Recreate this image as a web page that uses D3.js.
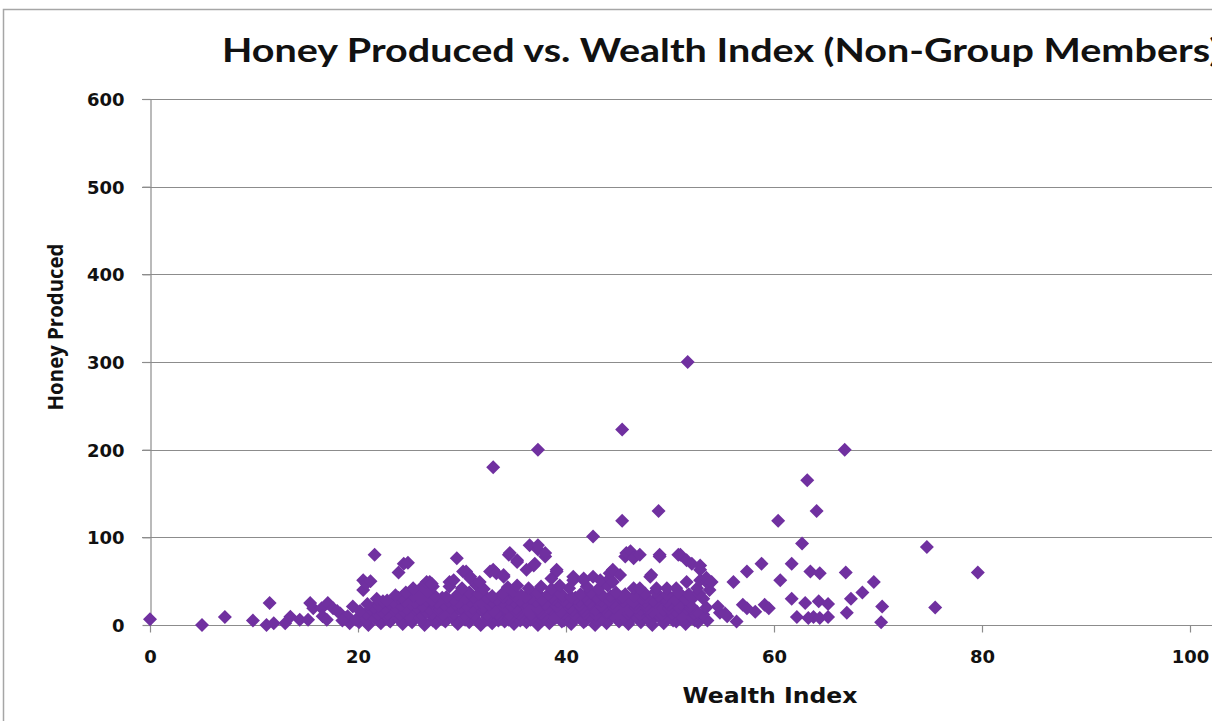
<!DOCTYPE html>
<html>
<head>
<meta charset="utf-8">
<title>Honey Produced vs. Wealth Index</title>
<script src="https://cdnjs.cloudflare.com/ajax/libs/d3/7.8.5/d3.min.js"></script>
<style>
  body { margin: 0; background: #fff; }
  .tick-label { font-family: "DejaVu Sans", sans-serif; font-weight: bold; font-size: 18px; fill: #111; }
</style>
</head>
<body>
<div id="chart"></div>
<script>
// ---- data: [wealth index, honey produced] ----
var lowWealth = [
  [0, 6.5], [5, 0], [7.2, 9], [9.9, 5], [11.2, 0], [11.5, 25], [11.9, 2], [13, 2], [13.5, 9.5],
  [14.4, 6], [15.2, 6], [15.4, 25], [15.7, 19], [16.5, 19], [16.6, 10], [17.1, 25], [17, 6],
  [17.6, 19], [18.3, 13], [18.8, 8], [19.2, 2], [19.5, 21], [18, 16], [19, 10], [18.5, 5]
];
var coreBottom = [
  [20.1, 3], [21.0, 0], [22.2, 2], [23.1, 4], [24.3, 1], [25.2, 3], [26.4, 0], [27.5, 2], [28.4, 4],
  [29.6, 1], [30.7, 3], [31.8, 0], [32.9, 2], [34.1, 4], [35.0, 1], [36.2, 3], [37.3, 0], [38.4, 2],
  [39.6, 4], [40.5, 1], [41.7, 3], [42.8, 0], [43.9, 2], [45.1, 4], [46.0, 1], [47.2, 3], [48.3, 0],
  [49.4, 2], [50.6, 4], [51.5, 1], [52.7, 3], [53.6, 5],
  [19.8, 6], [20.9, 5], [21.9, 6], [23.0, 5], [24.0, 6], [25.1, 5], [26.1, 6], [27.2, 5], [28.2, 6],
  [29.3, 5], [30.3, 6], [31.4, 5], [32.4, 6], [33.5, 5], [34.5, 6], [35.6, 5], [36.6, 6], [37.7, 5],
  [38.7, 6], [39.8, 5], [40.8, 6], [41.9, 5], [42.9, 6], [44.0, 5], [45.0, 6], [46.1, 5], [47.1, 6],
  [48.2, 5], [49.2, 6], [50.3, 5], [51.3, 6], [52.4, 5],
  [20.6, 10], [21.6, 8], [22.7, 11], [23.8, 9], [24.9, 10], [25.9, 8], [27.0, 11], [28.0, 9], [29.1, 10],
  [30.2, 8], [31.2, 11], [32.4, 9], [33.5, 10], [34.6, 8], [35.7, 11], [36.8, 9], [37.8, 10], [39.0, 8],
  [40.1, 11], [41.2, 9], [42.3, 10], [43.4, 8], [44.5, 11], [45.6, 9], [46.7, 10], [47.8, 8], [48.9, 11],
  [50.0, 9], [51.1, 10], [52.2, 8], [53.2, 12],
  [20.8, 13], [21.9, 12], [22.9, 13], [24.0, 12], [25.0, 13], [26.1, 12], [27.1, 13], [28.2, 12], [29.2, 13],
  [30.3, 12], [31.3, 13], [32.4, 12], [33.4, 13], [34.5, 12], [35.5, 13], [36.6, 12], [37.6, 13], [38.7, 12],
  [39.7, 13], [40.8, 12], [41.8, 13], [42.9, 12], [43.9, 13], [45.0, 12], [46.0, 13], [47.1, 12], [48.1, 13],
  [49.2, 12], [50.2, 13], [51.3, 12], [52.3, 13]
];
var coreMiddle = [
  [20.2, 16], [21.2, 18], [22.3, 15], [23.4, 17], [24.4, 16], [25.5, 18], [26.6, 15], [27.7, 17], [28.7, 16],
  [29.8, 18], [30.8, 15], [31.9, 17], [33.0, 16], [34.1, 18], [35.2, 15], [36.3, 17], [37.4, 16], [38.5, 18],
  [39.5, 15], [40.6, 17], [41.7, 16], [42.8, 18], [43.9, 15], [45.0, 17], [46.1, 16], [47.2, 18], [48.3, 15],
  [49.4, 17], [50.5, 16], [51.6, 18], [52.6, 15], [53.5, 20],
  [21.5, 20], [22.6, 19], [23.6, 20], [24.7, 19], [25.7, 20], [26.8, 19], [27.8, 20], [28.9, 19], [29.9, 20],
  [31.0, 19], [32.0, 20], [33.1, 19], [34.1, 20], [35.2, 19], [36.2, 20], [37.3, 19], [38.3, 20], [39.4, 19],
  [40.4, 20], [41.5, 19], [42.5, 20], [43.6, 19], [44.6, 20], [45.7, 19], [46.7, 20], [47.8, 19], [48.8, 20],
  [49.9, 19], [50.9, 20], [52.0, 19],
  [20.9, 24], [22.0, 22], [23.0, 25], [24.1, 23], [25.1, 24], [26.2, 22], [27.2, 25], [28.3, 23], [29.4, 24],
  [30.4, 22], [31.5, 25], [32.6, 23], [33.7, 24], [34.7, 22], [35.8, 25], [36.9, 23], [38.0, 24], [39.1, 22],
  [40.2, 25], [41.3, 23], [42.3, 24], [43.4, 22], [44.5, 25], [45.6, 23], [46.7, 24], [47.7, 22], [48.8, 25],
  [49.9, 23], [51.0, 24], [52.0, 22], [54.6, 21],
  [22.4, 27], [23.4, 26], [24.5, 27], [25.5, 26], [26.6, 27], [27.6, 26], [28.7, 27], [29.7, 26], [30.8, 27],
  [31.8, 26], [32.9, 27], [33.9, 26], [35.0, 27], [36.0, 26], [37.1, 27], [38.1, 26], [39.2, 27], [40.2, 26],
  [41.3, 27], [42.3, 26], [43.4, 27], [44.4, 26], [45.5, 27], [46.5, 26], [47.6, 27], [48.6, 26], [49.7, 27],
  [50.7, 26], [51.8, 27]
];
var coreTop = [
  [21.8, 30], [22.8, 28], [23.9, 31], [25.0, 29], [26.0, 30], [27.1, 28], [28.1, 31], [29.2, 29], [30.3, 30],
  [31.3, 28], [32.4, 31], [33.4, 29], [34.5, 30], [35.6, 28], [36.6, 31], [37.7, 29], [38.8, 30], [39.8, 28],
  [40.9, 31], [42.0, 29], [43.0, 30], [44.1, 28], [45.2, 31], [46.2, 29], [47.3, 30], [48.4, 28], [49.5, 31],
  [50.5, 29], [51.5, 30], [53.2, 30],
  [24.2, 32], [25.3, 33], [26.3, 32], [27.4, 33], [28.5, 32], [30.0, 33], [31.1, 32], [32.9, 33], [34.0, 32],
  [35.1, 33], [36.1, 32], [37.5, 33], [38.6, 32], [39.7, 33], [40.5, 32], [41.8, 33], [42.9, 32], [44.3, 33],
  [45.4, 32], [46.6, 33], [47.7, 32], [48.9, 33], [50.0, 32], [51.2, 33], [52.3, 32],
  [23.6, 34], [24.6, 37], [25.7, 35], [26.7, 38], [29.6, 35], [30.7, 37], [31.6, 35], [33.9, 36], [34.9, 38],
  [35.7, 34], [37.2, 37], [38.3, 35], [39.3, 38], [41.4, 35], [42.4, 37], [43.5, 34], [44.8, 37], [45.7, 35],
  [47.6, 36], [48.6, 38], [49.7, 35], [50.8, 37], [51.8, 35], [52.8, 36],
  [20.5, 40], [25.3, 42], [26.2, 44], [27.2, 44], [28.8, 44], [30.0, 42], [31.4, 45], [32.1, 41], [34.4, 43],
  [35.3, 45], [36.4, 42], [37.6, 44], [38.6, 41], [39.4, 45], [40.3, 42], [42.0, 44], [43.1, 41], [44.0, 45],
  [46.5, 42], [47.1, 42], [48.7, 42], [49.7, 42], [50.6, 42], [52.6, 42], [53.8, 40]
];
var upperCluster = [
  [20.5, 51], [20.8, 47], [21.2, 50], [21.6, 80], [23.9, 60], [24.4, 70], [24.8, 71], [26.6, 49], [26.9, 49],
  [27.1, 47], [28.8, 49], [29.2, 51], [29.5, 76], [30.1, 61], [30.4, 61], [30.8, 55], [30.8, 53], [31.7, 49],
  [32.7, 61], [33.0, 63], [33.3, 59], [34.0, 55], [34.0, 57], [34.5, 80], [34.6, 82], [35.3, 74], [35.3, 72],
  [36.2, 63], [36.5, 91], [36.9, 68], [37.0, 70], [37.3, 86], [37.3, 91], [38.0, 78], [38.0, 82], [38.6, 53],
  [39.1, 61], [39.1, 63], [40.7, 51], [40.7, 55], [41.7, 51], [41.7, 53], [42.6, 55], [42.6, 101], [43.3, 51],
  [44.2, 53], [44.2, 59], [44.5, 49], [44.5, 63], [45.2, 57], [45.4, 119], [45.7, 78], [45.8, 82], [46.2, 84],
  [46.5, 76], [47.1, 80], [48.1, 55], [48.2, 57], [49.0, 78], [49.0, 80], [50.8, 80], [51.0, 80], [51.6, 74],
  [51.6, 49], [52.1, 70], [52.9, 63], [52.9, 68], [52.9, 51], [53.5, 49], [53.5, 54], [54.0, 49]
];
var highWealth = [
  [54.8, 14], [55.5, 10], [55.3, 13], [56.4, 4], [56.1, 49], [57.0, 23], [57.4, 19], [57.4, 61], [58.2, 15],
  [58.8, 70], [59.1, 23], [59.5, 19], [60.4, 119], [60.6, 51], [61.7, 70], [61.7, 30], [62.2, 9], [62.7, 93],
  [63.0, 25], [63.2, 165], [63.3, 8], [63.5, 61], [63.8, 9], [64.1, 130], [64.3, 27], [64.4, 59], [64.4, 8],
  [65.2, 24], [65.2, 9], [66.8, 200], [66.9, 60], [67.0, 14], [67.4, 30], [68.5, 37], [69.6, 49], [70.3, 3],
  [70.4, 21], [74.7, 89], [75.5, 20], [79.6, 60]
];
var outliers = [[33.0, 180], [37.3, 200], [45.4, 223], [48.9, 130], [51.7, 300]];

var xTicks = [0, 20, 40, 60, 80, 100];
var yTicks = [0, 100, 200, 300, 400, 500, 600];

var points = [].concat(lowWealth, coreBottom, coreMiddle, coreTop, upperCluster, highWealth, outliers);

var W = 1224, H = 721;
var plot = {left: 150, right: 1190, top: 99, bottom: 625};
var cutoff = 1212; // the picture is cut off here on the right

var svg = d3.select("#chart").append("svg").attr("width", W).attr("height", H);
svg.append("defs").append("clipPath").attr("id", "cut")
   .append("rect").attr("x", 0).attr("y", 0).attr("width", cutoff).attr("height", H);

var g = svg.append("g").attr("clip-path", "url(#cut)");

// chart border
g.append("rect").attr("x", 3.5).attr("y", 9.5).attr("width", W + 20).attr("height", H + 20)
 .attr("fill", "#fff").attr("stroke", "#a6a6a6").attr("stroke-width", 1.5);

var x = d3.scaleLinear().domain([0, 100]).range([plot.left, plot.right]);
var y = d3.scaleLinear().domain([0, 600]).range([plot.bottom, plot.top]);

// horizontal gridlines
g.selectAll(".grid").data(yTicks.slice(1)).enter().append("line")
 .attr("x1", plot.left - 8).attr("x2", cutoff)
 .attr("y1", function(d){ return Math.round(y(d)) + 0.5; })
 .attr("y2", function(d){ return Math.round(y(d)) + 0.5; })
 .attr("stroke", "#8c8c8c").attr("stroke-width", 1.2);

// y axis
var yAxis = g.append("g").attr("transform", "translate(" + (plot.left + 0.5) + ",0)")
  .call(d3.axisLeft(y).tickValues(yTicks).tickSize(8).tickPadding(18).tickSizeOuter(0));
yAxis.select(".domain").attr("stroke", "#8c8c8c").attr("stroke-width", 1.2);
yAxis.selectAll(".tick line").attr("stroke", "#8c8c8c").attr("stroke-width", 1.2);
yAxis.selectAll(".tick text").attr("class", "tick-label").attr("dy", "0.36em");

// x axis
var xAxis = g.append("g").attr("transform", "translate(0," + (plot.bottom + 0.5) + ")")
  .call(d3.axisBottom(x).tickValues(xTicks).tickSize(7).tickPadding(18).tickSizeOuter(0));
xAxis.select(".domain").attr("d", "M" + plot.left + ",0H" + cutoff).attr("stroke", "#8c8c8c").attr("stroke-width", 1.2);
xAxis.selectAll(".tick line").attr("stroke", "#8c8c8c").attr("stroke-width", 1.2);
xAxis.selectAll(".tick text").attr("class", "tick-label");

// diamonds
var r = 7;
g.append("g").selectAll("path").data(points).enter().append("path")
 .attr("d", "M0," + (-r) + "L" + r + ",0L0," + r + "L" + (-r) + ",0Z")
 .attr("transform", function(d){ return "translate(" + x(d[0]) + "," + y(d[1]) + ")"; })
 .attr("fill", "#7030A0");

// titles
g.append("text").attr("x", 222).attr("y", 62)
 .attr("font-family", "Lato, 'Open Sans', sans-serif").attr("font-weight", "bold").attr("font-size", 33)
 .attr("fill", "#111").attr("textLength", 998).attr("lengthAdjust", "spacingAndGlyphs")
 .text("Honey Produced vs. Wealth Index (Non-Group Members)");

g.append("text").attr("font-family", "'Open Sans', sans-serif").attr("font-weight", "bold")
 .attr("font-size", 21).attr("fill", "#111")
 .attr("transform", "translate(63,327) rotate(-90)").attr("text-anchor", "middle")
 .attr("textLength", 167).attr("lengthAdjust", "spacingAndGlyphs")
 .text("Honey Produced");

g.append("text").attr("font-family", "'DejaVu Sans', sans-serif").attr("font-weight", "bold")
 .attr("font-size", 22).attr("fill", "#111")
 .attr("x", 770).attr("y", 703).attr("text-anchor", "middle")
 .attr("textLength", 175).attr("lengthAdjust", "spacingAndGlyphs")
 .text("Wealth Index");
</script>
</body>
</html>
